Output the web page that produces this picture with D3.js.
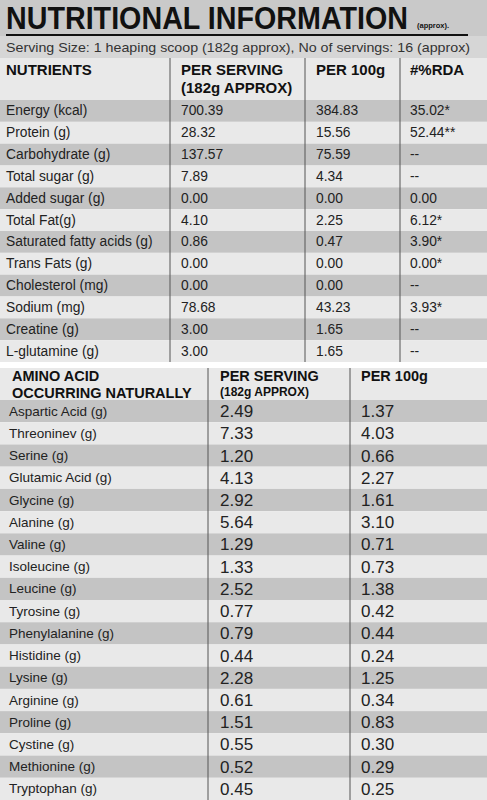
<!DOCTYPE html><html><head><meta charset="utf-8"><script src="https://cdn.jsdelivr.net/npm/d3@7"></script>
<style>body{margin:0;background:#fff}</style></head><body><svg id="c" width="487" height="800"></svg>
<script>
const nutrients=["Energy (kcal)","Protein (g)","Carbohydrate (g)","Total sugar (g)","Added sugar (g)","Total Fat(g)","Saturated fatty acids (g)","Trans Fats (g)","Cholesterol (mg)","Sodium (mg)","Creatine (g)","L-glutamine (g)"];
const perServing=["700.39","28.32","137.57","7.89","0.00","4.10","0.86","0.00","0.00","78.68","3.00","3.00"];
const per100=["384.83","15.56","75.59","4.34","0.00","2.25","0.47","0.00","0.00","43.23","1.65","1.65"];
const rda=["35.02*","52.44**","--","--","0.00","6.12*","3.90*","0.00*","--","3.93*","--","--"];
const aminos=["Aspartic Acid (g)","Threoninev (g)","Serine (g)","Glutamic Acid (g)","Glycine (g)","Alanine (g)","Valine (g)","Isoleucine (g)","Leucine (g)","Tyrosine (g)","Phenylalanine (g)","Histidine (g)","Lysine (g)","Arginine (g)","Proline (g)","Cystine (g)","Methionine (g)","Tryptophan (g)"];
const aminoServing=["2.49","7.33","1.20","4.13","2.92","5.64","1.29","1.33","2.52","0.77","0.79","0.44","2.28","0.61","1.51","0.55","0.52","0.45"];
const amino100=["1.37","4.03","0.66","2.27","1.61","3.10","0.71","0.73","1.38","0.42","0.44","0.24","1.25","0.34","0.83","0.30","0.29","0.25"];

const svg=d3.select("#c"),F="Liberation Sans, Arial, sans-serif",W=487;
const dark="#c4c4c4",light="#e9e9e9",ink="#222";
svg.append("rect").attr("width",W).attr("height",800).attr("fill","#fff");
svg.append("rect").attr("width",W).attr("height",36).attr("fill","#c9c9c9");
svg.append("text").attr("x",6).attr("y",29).attr("font-family",F).attr("font-weight","bold").attr("font-size",31).attr("fill","#111").attr("textLength",402).attr("lengthAdjust","spacingAndGlyphs").text("NUTRITIONAL INFORMATION");
svg.append("text").attr("x",417).attr("y",28).attr("font-family",F).attr("font-weight","bold").attr("font-size",7.5).attr("fill","#111").text("(approx).");
svg.append("rect").attr("y",36).attr("width",W).attr("height",22).attr("fill","#d6d6d6");
svg.append("rect").attr("x",6).attr("y",34).attr("width",462).attr("height",2).attr("fill","#111");
svg.append("text").attr("x",6).attr("y",52).attr("font-family",F).attr("font-size",13).attr("fill","#333").attr("textLength",464).attr("lengthAdjust","spacingAndGlyphs").text("Serving Size: 1 heaping scoop (182g approx), No of servings: 16 (approx)");

// table 1
const y1=d3.scaleBand().domain(d3.range(nutrients.length)).range([100,362]);
svg.append("rect").attr("y",58).attr("width",W).attr("height",42).attr("fill",light);
const g1=svg.append("g");
g1.selectAll("rect.r").data(nutrients).join("rect").attr("y",(d,i)=>y1(i)).attr("width",W).attr("height",y1.bandwidth()).attr("fill",(d,i)=>i%2?light:dark);
const cols1=[6,181,316,410];
const data1=[nutrients,perServing,per100,rda];
data1.forEach((arr,c)=>g1.selectAll("text.c"+c).data(arr).join("text").attr("x",cols1[c]).attr("y",(d,i)=>y1(i)+y1.bandwidth()/2+4.5).attr("font-family",F).attr("font-size",13.8).attr("fill",ink).text(d=>d));
const hdr=[["NUTRIENTS"],["PER SERVING","(182g  APPROX)"],["PER 100g"],["#%RDA"]];
hdr.forEach((ls,c)=>ls.forEach((l,k)=>svg.append("text").attr("x",cols1[c]).attr("y",75+k*18).attr("font-family",F).attr("font-weight","bold").attr("font-size",15).attr("fill","#111").text(l)));
[170,305,400].forEach(x=>svg.append("line").attr("x1",x).attr("x2",x).attr("y1",58).attr("y2",362).attr("stroke","#555").attr("stroke-width",1));

// table 2
const y2=d3.scaleBand().domain(d3.range(aminos.length)).range([400,800]);
svg.append("rect").attr("y",368).attr("width",W).attr("height",32).attr("fill",light);
const g2=svg.append("g");
g2.selectAll("rect").data(aminos).join("rect").attr("y",(d,i)=>y2(i)).attr("width",W).attr("height",y2.bandwidth()).attr("fill",(d,i)=>i%2?light:dark);
g2.selectAll("text.a").data(aminos).join("text").attr("x",9).attr("y",(d,i)=>y2(i)+y2.bandwidth()/2+4.5).attr("font-family",F).attr("font-size",13.5).attr("fill",ink).text(d=>d);
[[aminoServing,220],[amino100,361]].forEach(([arr,x])=>g2.selectAll(null).data(arr).join("text").attr("x",x).attr("y",(d,i)=>y2(i)+y2.bandwidth()/2+6).attr("font-family",F).attr("font-size",17).attr("fill",ink).text(d=>d));
[["AMINO ACID",12,381,14.5],["OCCURRING NATURALLY",12,398,14.5],["PER SERVING",220,381,14.5],["(182g  APPROX)",220,396,12],["PER 100g",361,381,14.5]].forEach(([t,x,y,s])=>svg.append("text").attr("x",x).attr("y",y).attr("font-family",F).attr("font-weight","bold").attr("font-size",s).attr("fill","#111").text(t));
[208,350].forEach(x=>svg.append("line").attr("x1",x).attr("x2",x).attr("y1",368).attr("y2",800).attr("stroke","#555").attr("stroke-width",1));
</script></body></html>
